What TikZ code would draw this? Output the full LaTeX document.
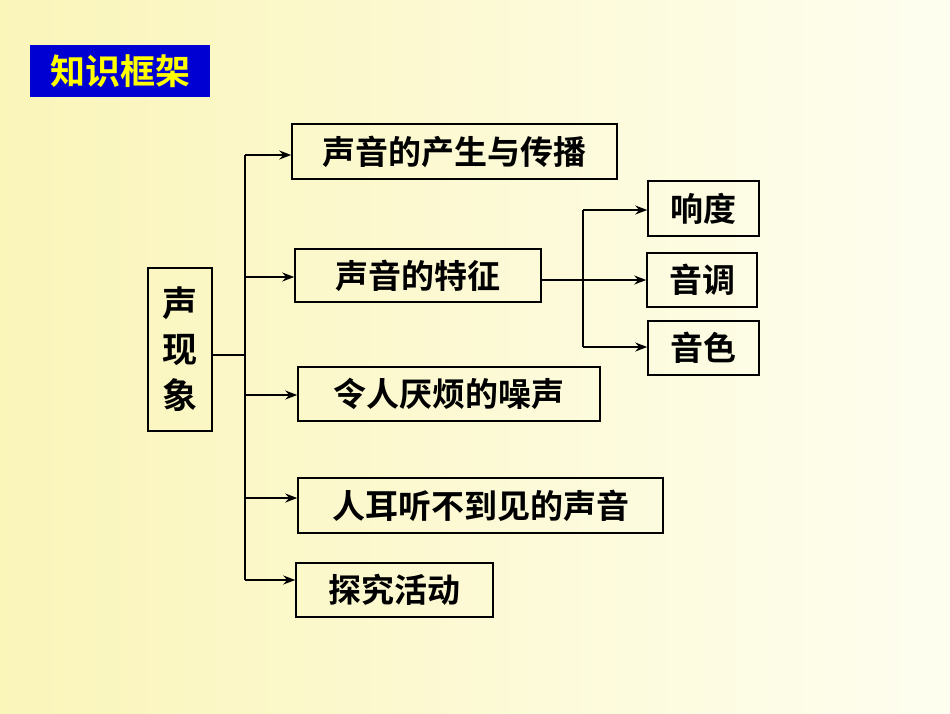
\documentclass[tikz,border=0pt]{standalone}
\usepackage{fontspec}
\newfontfamily\cjk{Noto Sans CJK SC Bold}
\usetikzlibrary{arrows.meta}
\begin{document}
\begin{tikzpicture}[x=1pt,y=-1pt,
  box/.style={draw=black,line width=1.5pt,fill=none,inner sep=0pt,font=\cjk\fontsize{33}{36}\selectfont},
  con/.style={line width=1.5pt},
  arr/.style={line width=1.5pt,-{Stealth[length=12pt,width=9pt]}}]
\shade[left color={rgb,255:red,250;green,245;blue,185},right color={rgb,255:red,254;green,254;blue,240}] (0,0) rectangle (950,713);
\useasboundingbox (0,0) rectangle (950,713);
\node[fill={rgb,255:red,0;green,0;blue,210},text={rgb,255:red,255;green,255;blue,0},font=\cjk\fontsize{35}{36}\selectfont,minimum width=180pt,minimum height=52pt,inner sep=0pt] (title) at (120,71) {知识框架};
\node[box,minimum width=64pt,minimum height=163pt,align=center,font=\cjk\fontsize{35}{46}\selectfont] (root) at (180,349.5) {声\\现\\象};
\node[box,minimum width=325pt,minimum height=55pt] (a) at (454.5,151.5) {声音的产生与传播};
\node[box,minimum width=246pt,minimum height=53pt] (b) at (418,275.5) {声音的特征};
\node[box,minimum width=302pt,minimum height=54pt] (c) at (449,394) {令人厌烦的噪声};
\node[box,minimum width=365pt,minimum height=55pt] (d) at (480.5,505.5) {人耳听不到见的声音};
\node[box,minimum width=197pt,minimum height=54pt] (e) at (394.5,590) {探究活动};
\node[box,minimum width=111pt,minimum height=55pt] (f) at (703.5,208.5) {响度};
\node[box,minimum width=110pt,minimum height=54pt] (g) at (702,280) {音调};
\node[box,minimum width=111pt,minimum height=54pt] (h) at (703.5,348) {音色};
\coordinate (t) at (245,355);
\coordinate (tt) at (245,155);
\coordinate (tb) at (245,580);
\draw[con] (root.east |- t) -- (t);
\draw[con] (tt) -- (tb);
\draw[arr] (tt) -- (tt -| a.west);
\draw[arr] (245,277) -- (b.west |- 0,277);
\draw[arr] (245,395) -- (c.west |- 0,395);
\draw[arr] (245,498) -- (d.west |- 0,498);
\draw[arr] (tb) -- (tb -| e.west);
\coordinate (s) at (583,280);
\draw[con] (b.east |- s) -- (s);
\draw[con] (583,210) -- (583,347);
\draw[arr] (583,210) -- (f.west |- 0,210);
\draw[arr] (s) -- (g.west |- s);
\draw[arr] (583,347) -- (h.west |- 0,347);
\end{tikzpicture}
\end{document}
